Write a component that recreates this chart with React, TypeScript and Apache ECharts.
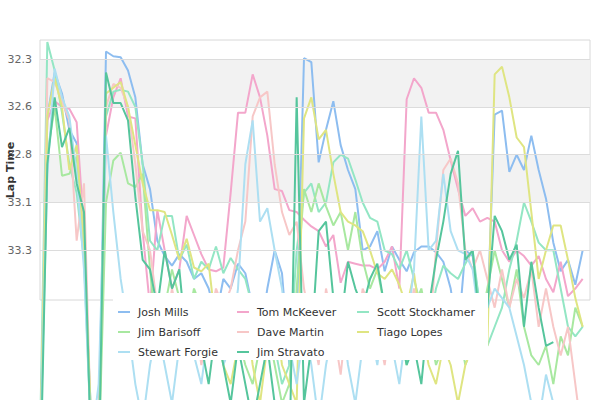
import React, { useEffect, useRef } from "react";
import * as echarts from "echarts";

// Lap numbers (x categories)
const LAPS = [
  1, 2, 3, 4, 5, 6, 7, 8, 9, 10, 11, 12, 13, 14, 15, 16, 17, 18, 19, 20,
  21, 22, 23, 24, 25, 26, 27, 28, 29, 30, 31, 32, 33, 34, 35, 36, 37, 38, 39, 40,
  41, 42, 43, 44, 45, 46, 47, 48, 49, 50, 51, 52, 53, 54, 55, 56, 57, 58, 59, 60,
  61, 62, 63, 64, 65, 66, 67, 68, 69, 70, 71, 72, 73, 74, 75,
];

const DRIVERS = [
  "Josh Mills",
  "Tom McKeever",
  "Scott Stockhamer",
  "Jim Barisoff",
  "Dave Martin",
  "Tiago Lopes",
  "Stewart Forgie",
  "Jim Stravato",
];

const COLORS = ["#8dbdf0", "#f3a6cb", "#93e6c4", "#a8e8a0", "#f7c7c7", "#dfe582", "#addff2", "#55c59c"];

// Lap times (seconds)
const JOSH_MILLS = [
  34.4, 32.6, 32.37, 32.48, 32.67, 32.74, 33.3, 34.2, 34.3, 32.26,
  32.285, 32.29, 32.36, 32.5, 32.85, 32.98, 33.25, 33.33, 33.38, 33.32,
  33.36, 33.45, 33.42, 33.5, 33.65, 33.45, 33.5, 33.37, 33.42, 33.6,
  33.75, 33.5, 33.3, 33.42, 33.9, 33.7, 32.295, 32.316, 32.84, 32.67,
  32.52, 32.75, 32.88, 32.98, 33.3, 33.28, 33.2, 33.41, 33.28, 33.35,
  33.41, 33.31, 33.28, 33.28, 33.31, 33.36, 33.5, 33.75, 33.3, 33.33,
  33.6, 33.65, 32.59, 32.57, 32.89, 32.8, 32.88, 32.7, 32.88, 33.03,
  33.26, 33.41, 33.35, 33.48, 33.3,
];
const TOM_MCKEEVER = [
  34.5, 32.62, 32.52, 32.55, 32.56, 32.63, 33.2, 34.3, 34.2, 32.7,
  32.5, 32.4, 32.6, 32.61, 33.2, 33.6, 33.09, 33.3, 33.5, 33.4,
  33.12, 33.22, 33.32, 33.4, 33.41, 33.39, 33.0, 32.58, 32.58, 32.38,
  32.5, 32.7, 32.98, 32.99, 33.09, 33.1, 33.14, 33.175, 33.2, 33.28,
  33.22, 33.47, 33.36, 33.37, 33.38, 33.38, 33.4, 33.36, 33.28, 33.5,
  32.51, 32.4, 32.45, 32.58, 32.58, 32.67, 32.83, 32.98, 33.12, 33.08,
  33.15, 33.13, 33.15, 33.3, 33.36, 33.3, 33.33, 33.38, 33.33, 33.45,
  33.52, 33.36, 33.54, 33.5, 33.45,
];
const SCOTT_STOCKHAMER = [
  34.3, 32.21, 32.36, 32.58, 32.85, 33.0, 33.35, 34.3, 34.2, 32.6,
  32.47, 32.46, 32.47, 32.55, 32.85, 33.25, 33.3, 33.12, 33.12, 33.35,
  33.27, 33.45, 33.36, 33.4, 33.28, 33.42, 33.34, 33.4, 33.45, 33.6,
  33.7, 33.55, 33.8, 34.0, 33.9, 33.3, 33.0, 32.95, 33.1, 33.05,
  32.84, 32.8, 32.82, 32.93, 33.05, 33.13, 33.15, 33.3, 33.32, 33.4,
  33.3, 33.45, 33.6, 33.7, 33.5, 33.38, 33.42, 33.45, 33.37, 33.3,
  33.6, 33.8, 33.7, 33.6, 33.4, 33.25, 33.05, 33.15, 33.26, 33.3,
  33.3, 33.5, 33.7, 33.75, 33.7,
];
const JIM_BARISOFF = [
  34.4, 32.8, 32.55, 32.91, 32.9, 32.81, 33.25, 34.3, 34.4, 33.05,
  32.83, 32.79, 32.95, 32.97, 32.9, 33.4, 33.8, 33.6, 33.4, 33.55,
  33.7, 33.5, 33.6, 33.8, 33.7, 33.55, 33.6, 33.75, 33.9, 34.0,
  33.8, 33.7, 33.9, 34.1, 34.0, 33.5, 32.98, 33.1, 32.95, 33.07,
  33.17, 33.1, 33.3, 33.1, 33.35, 33.5, 33.4, 33.6, 33.8, 33.7,
  33.9, 33.6, 33.5, 33.7, 33.9, 33.8, 33.6, 33.7, 33.9, 33.8,
  33.7, 33.5, 33.3, 33.45, 33.6, 33.4, 33.7, 33.85, 33.9, 33.8,
  34.0, 33.75, 33.85, 33.6, 33.7,
];
const DAVE_MARTIN = [
  34.5, 32.4, 32.42, 32.52, 32.62, 33.25, 32.95, 34.3, 34.3, 32.55,
  32.43, 32.45, 32.55, 32.85, 33.2, 33.3, 33.6, 33.75, 33.5, 33.7,
  33.8, 33.6, 33.9, 33.7, 33.5, 33.6, 33.5, 33.3, 33.15, 32.6,
  32.5, 32.47, 32.85, 33.1, 33.22, 33.15, 33.5, 33.7, 33.9, 33.5,
  33.7, 33.95, 33.6, 33.8, 33.5, 33.6, 33.7, 33.9, 33.6, 33.8,
  33.7, 33.5, 33.65, 33.8, 33.3, 32.88, 32.82, 32.95, 33.3, 33.4,
  33.3, 33.45, 33.6, 33.4, 33.6, 33.45, 33.55, 33.4, 33.7, 33.5,
  33.7, 33.85, 33.7, 34.0, 34.3,
];
const TIAGO_LOPES = [
  34.4, 32.6, 32.4, 32.55, 32.88, 32.75, 33.3, 34.2, 34.4, 32.48,
  32.45, 32.42, 32.55, 32.75, 32.95, 33.09, 33.09, 33.1, 33.22, 33.35,
  33.24, 33.39, 33.41, 33.37, 33.7, 33.9, 34.0, 33.8, 33.6, 33.9,
  34.1, 33.8, 33.6, 33.9, 34.0, 34.1, 32.61, 32.5, 32.72, 32.67,
  32.9, 33.1, 33.15, 33.17, 33.2, 33.3, 33.42, 33.45, 33.4, 33.48,
  33.6, 33.42, 33.7, 33.9, 34.0, 33.8, 33.9, 34.1, 33.9, 33.8,
  33.6, 33.8, 32.38, 32.34, 32.5, 32.71, 32.76, 33.1, 33.45, 33.3,
  33.17, 33.17, 33.35, 33.55, 33.7,
];
const STEWART_FORGIE = [
  34.4, 32.9, 32.35, 32.5, 32.6, 32.9, 33.4, 34.3, 34.0, 32.7,
  33.1, 33.45, 33.7, 34.0, 34.2, 33.9, 33.7, 33.9, 34.1, 33.8,
  33.6, 33.85, 34.0, 33.7, 33.6, 33.9, 33.8, 33.5, 32.85, 32.62,
  33.15, 33.08, 33.3, 33.5, 33.8, 34.0, 33.7, 33.9, 34.2, 33.9,
  33.7, 33.6, 33.9, 34.1, 33.8, 33.7, 33.9, 33.6, 33.8, 34.0,
  33.7, 33.4, 32.6, 33.3, 33.25, 32.9, 33.2, 33.3, 33.32, 33.4,
  33.7, 33.6, 33.5, 33.55, 33.6, 33.75, 33.9, 34.1, 34.2, 33.95,
  34.1, 34.3, 34.1, 34.2, 34.3,
];
const JIM_STRAVATO = [
  34.6, 32.85, 32.5, 32.76, 32.66, 32.95, 33.1, 34.4, 34.5, 32.37,
  32.53, 32.53, 32.62, 33.02, 33.35, 33.4, 33.6, 33.3, 33.5, 33.4,
  33.8, 33.6, 33.8, 34.0, 33.7, 33.9, 34.1, 33.8, 34.0, 34.2,
  34.0, 33.8, 34.1, 34.3, 34.4, 32.5, 34.1, 33.8, 33.2, 33.15,
  33.55, 33.7, 33.36, 33.5, 33.6, 33.45, 33.37, 33.6, 33.8, 33.7,
  33.9, 33.8, 34.0, 33.6, 33.35, 33.15, 32.9, 32.78, 33.35, 33.3,
  33.7, 33.6, 33.12, 33.2, 33.35, 33.27, 33.7, 33.36, 33.6, 33.8,
  33.78, null, null, null, null,
];

const SERIES_VALUES = [
  JOSH_MILLS,
  TOM_MCKEEVER,
  SCOTT_STOCKHAMER,
  JIM_BARISOFF,
  DAVE_MARTIN,
  TIAGO_LOPES,
  STEWART_FORGIE,
  JIM_STRAVATO,
];

// y axis ticks and their printed labels
const Y_TICKS = [32.3, 32.55, 32.8, 33.05, 33.3];
const Y_TICK_LABELS = ["32.3", "32.6", "32.8", "33.1", "33.3"];
const Y_BANDS = [
  [32.3, 32.55],
  [32.8, 33.05],
];

// legend columns (row-major order of the series)
const LEGEND_COLUMNS = [
  ["Josh Mills", "Jim Barisoff", "Stewart Forgie"],
  ["Tom McKeever", "Dave Martin", "Jim Stravato"],
  ["Scott Stockhamer", "Tiago Lopes"],
];
const LEGEND_LEFT = [118, 237, 357];

export default function App() {
  const ref = useRef<HTMLDivElement>(null);

  useEffect(() => {
    if (!ref.current) return;
    const chart = echarts.init(ref.current, null, { renderer: "svg" });

    const helper: any = {
      type: "line",
      name: "__grid",
      data: [],
      silent: true,
      z: 1,
      markArea: {
        silent: true,
        itemStyle: { color: "#f2f2f2" },
        data: Y_BANDS.map(([a, b]) => [{ yAxis: a }, { yAxis: b }]),
      },
      markLine: {
        silent: true,
        symbol: ["none", "none"],
        lineStyle: { color: "#dcdcdc", width: 1, type: "solid" },
        label: {
          position: "start",
          distance: 8,
          color: "#666",
          fontSize: 11,
          fontFamily: "DejaVu Sans",
          formatter: (p: any) => Y_TICK_LABELS[p.dataIndex],
        },
        emphasis: { disabled: true },
        data: Y_TICKS.map((v) => ({ yAxis: v })),
      },
    };

    const lines = SERIES_VALUES.map((vals, k) => ({
      type: "line",
      name: DRIVERS[k],
      data: vals.map((v, i) => [LAPS[i], v]),
      showSymbol: false,
      symbol: "none",
      clip: false,
      silent: true,
      z: 2,
      color: COLORS[k],
      itemStyle: { color: COLORS[k] },
      lineStyle: { width: 2, color: COLORS[k] },
    }));

    const option: any = {
      animation: false,
      textStyle: { fontFamily: "DejaVu Sans" },
      grid: {
        left: 40,
        right: 10,
        top: 40,
        bottom: 100,
        show: true,
        borderColor: "#d8d8d8",
        borderWidth: 1,
        backgroundColor: "transparent",
        outerBoundsMode: "none",
      },
      xAxis: { type: "value", min: 1, max: 76, show: false },
      yAxis: {
        type: "value",
        inverse: true,
        min: 32.2,
        max: 33.56,
        axisLine: { show: false },
        axisTick: { show: false },
        axisLabel: { show: false },
        splitLine: { show: false },
        name: "Lap Time",
        nameLocation: "middle",
        nameGap: 24,
        nameTextStyle: { fontWeight: "bold", fontSize: 11, color: "#333", fontFamily: "DejaVu Sans" },
      },
      legend: LEGEND_COLUMNS.map((names, c) => ({
        orient: "vertical",
        left: LEGEND_LEFT[c],
        top: 305,
        padding: 0,
        itemGap: 6,
        itemWidth: 12,
        itemHeight: 2,
        icon: "rect",
        selectedMode: false,
        z: 20,
        data: names,
        textStyle: { fontSize: 11, color: "#333", lineHeight: 14, padding: [0, 0, 0, 3], fontFamily: "DejaVu Sans" },
      })),
      graphic: [
        {
          type: "rect",
          silent: true,
          z: 10,
          shape: { x: 113, y: 293, width: 375, height: 67 },
          style: { fill: "#ffffff" },
        },
      ],
      series: [helper, ...lines],
    };

    chart.setOption(option);
    return () => chart.dispose();
  }, []);

  return (
    <div
      ref={ref}
      style={{ position: "absolute", left: 0, top: 0, width: 600, height: 400 }}
    />
  );
}
